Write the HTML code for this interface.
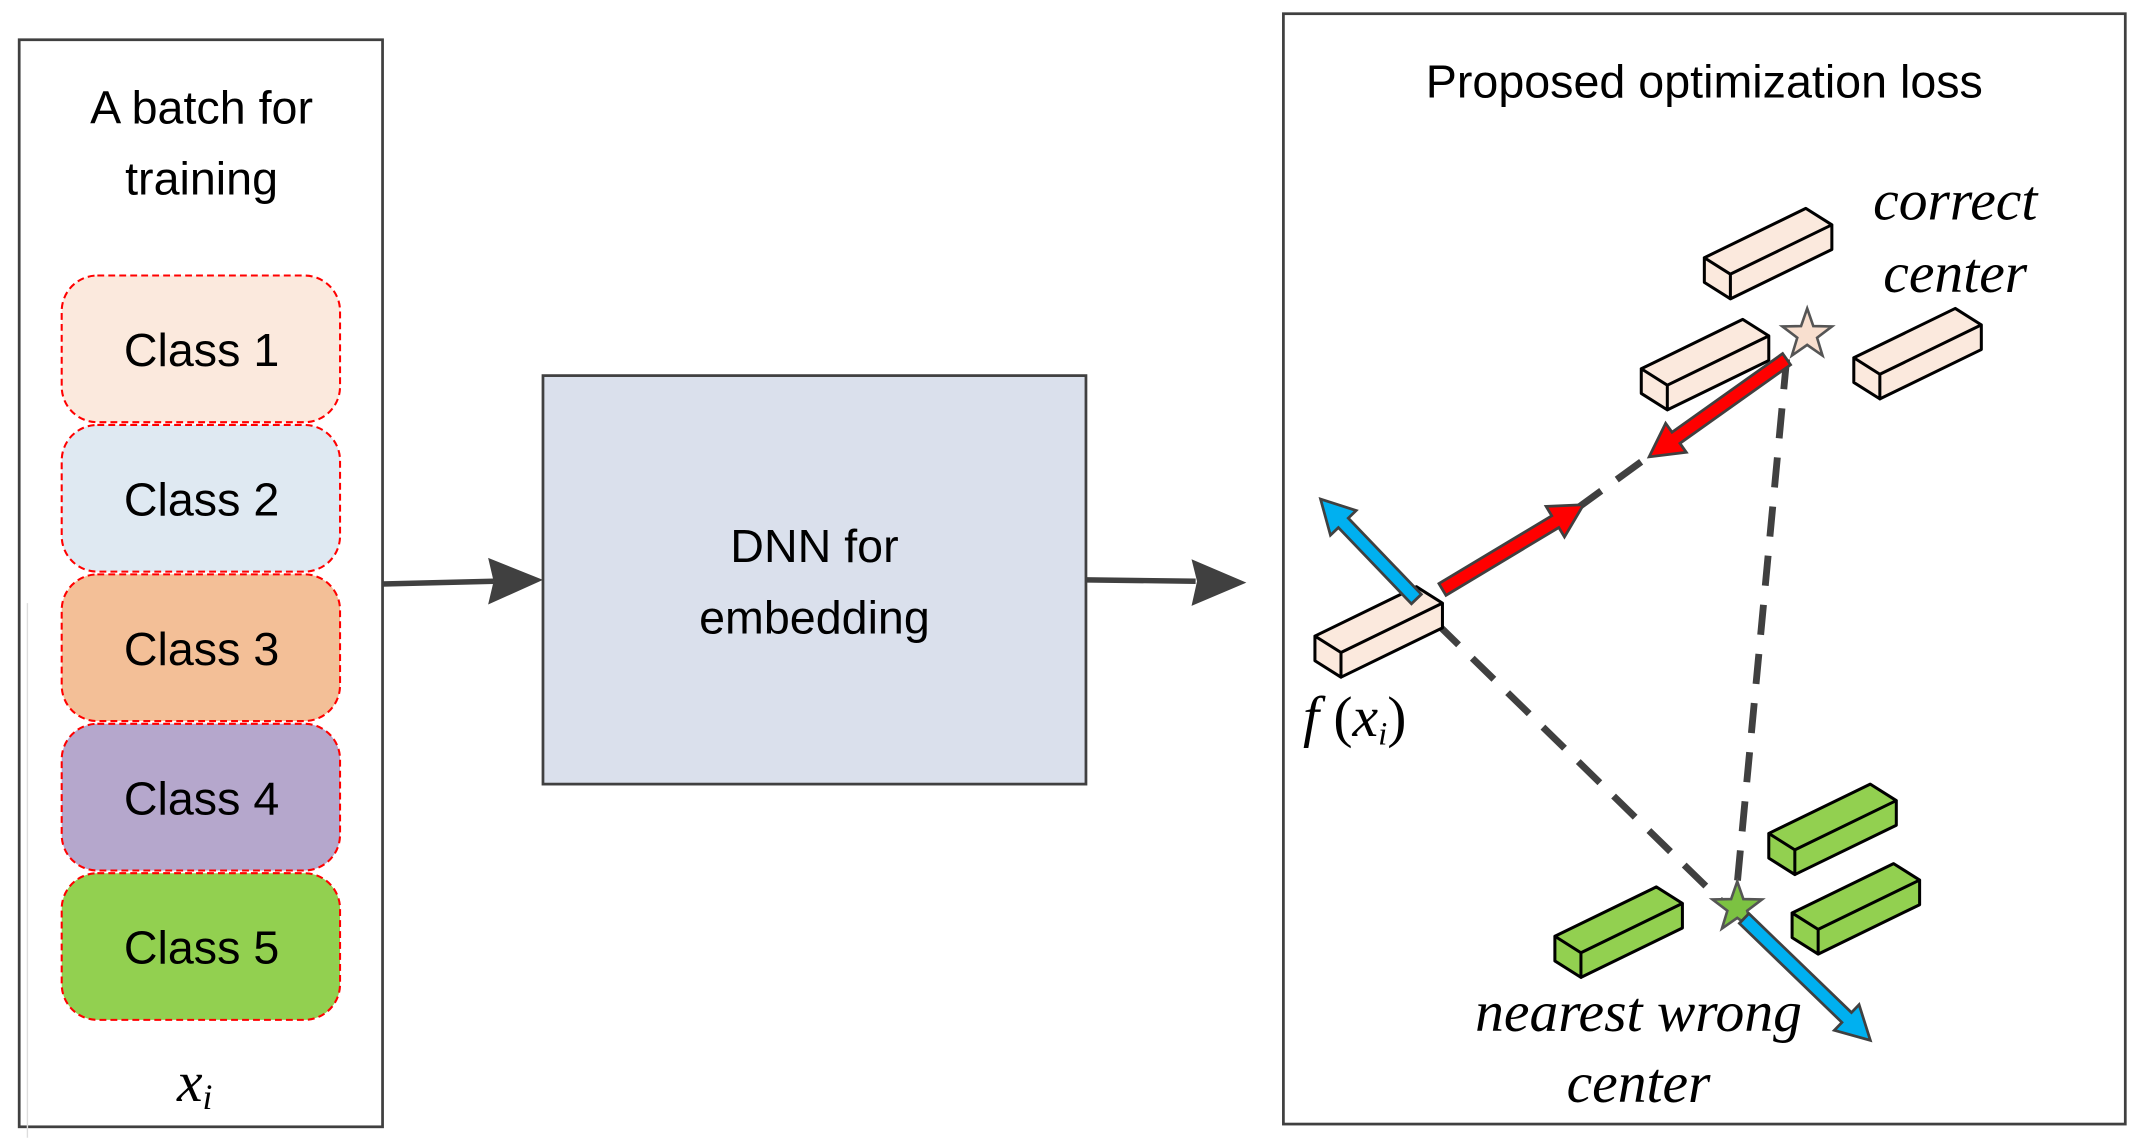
<!DOCTYPE html>
<html><head><meta charset="utf-8"><style>
html,body{margin:0;padding:0;background:#fff;}
svg{display:block;}
.s{font-family:"Liberation Sans",sans-serif;font-size:34px;fill:#000;text-anchor:middle;}
.m{font-family:"Liberation Serif",serif;font-style:italic;font-size:42px;fill:#000;text-anchor:middle;}
.cb{stroke:#000;stroke-width:2.2;stroke-linejoin:round;}
</style></head><body>
<svg width="2139" height="1146" viewBox="0 0 1560 836" preserveAspectRatio="none" xmlns="http://www.w3.org/2000/svg">
<defs>
<g id="cube"><path class="cb" d="M0,0 L74,-36 L55,-48 L-19,-12 Z M0,0 L74,-36 L74,-18 L0,18 Z M0,0 L-19,-12 L-19,6 L0,18 Z"/></g>
</defs>
<rect x="14" y="29" width="265" height="793" fill="#fff" stroke="#404040" stroke-width="2"/>
<line x1="20" y1="440" x2="20" y2="830" stroke="#ddd" stroke-width="1"/>
<text class="s" x="147" y="90">A batch for</text>
<text class="s" x="147" y="142">training</text>
<rect x="45" y="201" width="203" height="107" rx="26" fill="#fbe9dd" stroke="#f00" stroke-width="1.5" stroke-dasharray="5,3"/>
<rect x="45" y="310" width="203" height="107" rx="26" fill="#dfe9f2" stroke="#f00" stroke-width="1.5" stroke-dasharray="5,3"/>
<rect x="45" y="419" width="203" height="107" rx="26" fill="#f3bf97" stroke="#f00" stroke-width="1.5" stroke-dasharray="5,3"/>
<rect x="45" y="528" width="203" height="107" rx="26" fill="#b5a7cc" stroke="#f00" stroke-width="1.5" stroke-dasharray="5,3"/>
<rect x="45" y="637" width="203" height="107" rx="26" fill="#92d050" stroke="#f00" stroke-width="1.5" stroke-dasharray="5,3"/>
<text class="s" x="147" y="267">Class 1</text>
<text class="s" x="147" y="376">Class 2</text>
<text class="s" x="147" y="485">Class 3</text>
<text class="s" x="147" y="594">Class 4</text>
<text class="s" x="147" y="703">Class 5</text>
<text class="m" x="142" y="803">x<tspan font-size="26" dy="6">i</tspan></text>
<line x1="279" y1="426" x2="360" y2="424" stroke="#404040" stroke-width="4"/>
<polygon points="396,423 356,407 360,424 356,441" fill="#404040"/>
<rect x="396" y="274" width="396" height="298" fill="#dae0ec" stroke="#404040" stroke-width="2"/>
<text class="s" x="594" y="410">DNN for</text>
<text class="s" x="594" y="462">embedding</text>
<line x1="792" y1="423" x2="872" y2="424" stroke="#404040" stroke-width="4"/>
<polygon points="909,425 869,408 873,424 869,442" fill="#404040"/>
<rect x="936" y="10" width="614" height="810" fill="#fff" stroke="#404040" stroke-width="2"/>
<text class="s" x="1243" y="71">Proposed optimization loss</text>
<text class="m" x="1426" y="160">correct</text>
<text class="m" x="1426" y="213">center</text>
<text class="m" x="1195" y="752">nearest wrong</text>
<text class="m" x="1195" y="804">center</text>
<text class="m" x="988" y="537">f<tspan font-style="normal"> (</tspan>x<tspan font-size="24" dy="6">i</tspan><tspan dy="-6" font-style="normal">)</tspan></text>
<g stroke="#404040" stroke-width="5" stroke-dasharray="22,14" fill="none">
<line x1="1150" y1="371" x2="1205" y2="331"/>
<line x1="1303" y1="262" x2="1266" y2="655"/>
<line x1="1048" y1="455" x2="1258" y2="660"/>
</g>
<use href="#cube" x="1262" y="200" fill="#fbe9dd"/>
<use href="#cube" x="1216" y="281" fill="#fbe9dd"/>
<use href="#cube" x="1371" y="273" fill="#fbe9dd"/>
<use href="#cube" x="978" y="476" fill="#fbe9dd"/>
<use href="#cube" x="1309" y="620" fill="#92d050"/>
<use href="#cube" x="1326" y="678" fill="#92d050"/>
<use href="#cube" x="1153" y="695" fill="#92d050"/>
<polygon transform="translate(1318,244) scale(19)" points="0,-1 0.235,-0.324 0.951,-0.309 0.38,0.124 0.588,0.809 0,0.4 -0.588,0.809 -0.38,0.124 -0.951,-0.309 -0.235,-0.324" fill="#f8dfcf" stroke="#555" stroke-width="0.1"/>
<polygon transform="translate(1267,662) scale(19)" points="0,-1 0.235,-0.324 0.951,-0.309 0.38,0.124 0.588,0.809 0,0.4 -0.588,0.809 -0.38,0.124 -0.951,-0.309 -0.235,-0.324" fill="#7cc242" stroke="#555" stroke-width="0.1"/>
<g stroke="#404040" stroke-width="2" stroke-linejoin="miter">
<polygon transform="translate(1052,430) rotate(-31)" points="0,-5 96,-5 96,-13 120,0 96,13 96,5 0,5" fill="#f00"/>
<polygon transform="translate(1303,262) rotate(144.6)" points="0,-5 99,-5 99,-13 123,0 99,13 99,5 0,5" fill="#f00"/>
<polygon transform="translate(1033,437) rotate(-133.8)" points="0,-5 77,-5 77,-13 101,0 77,13 77,5 0,5" fill="#00b0f0"/>
<polygon transform="translate(1272,670) rotate(44)" points="0,-5 104,-5 104,-13 128,0 104,13 104,5 0,5" fill="#00b0f0"/>
</g>
</svg>
</body></html>
